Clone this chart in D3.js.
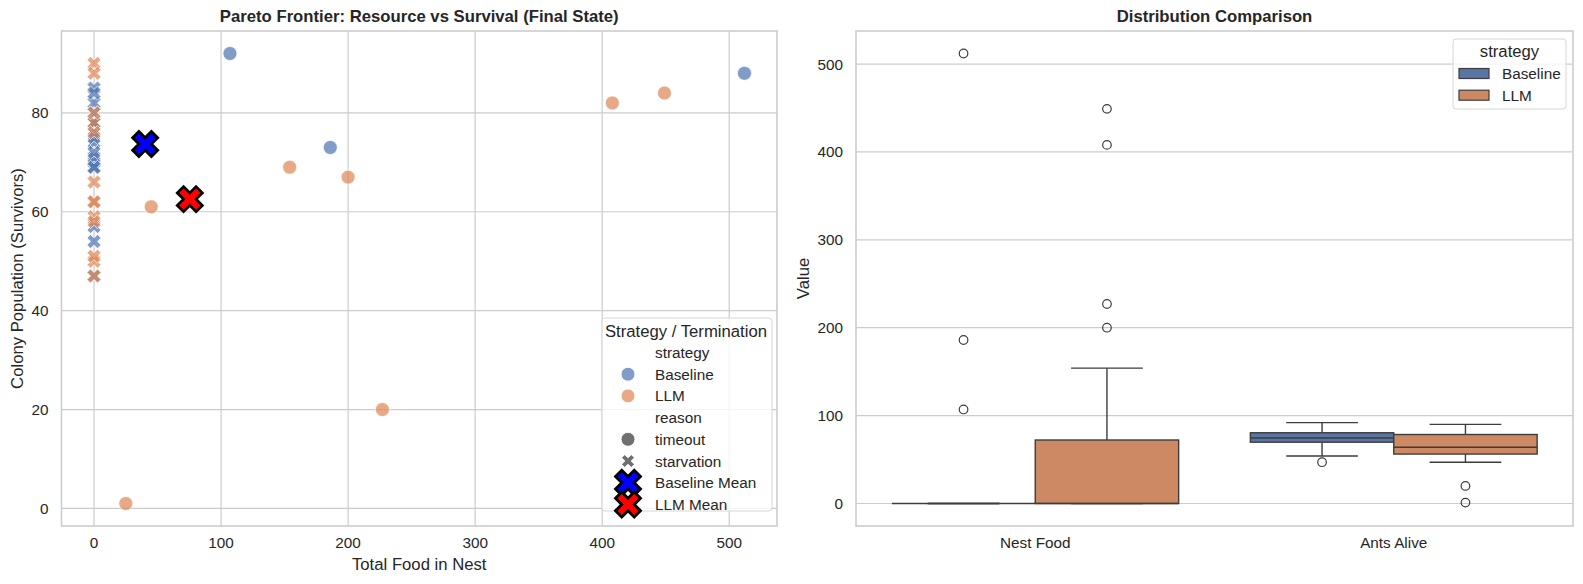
<!DOCTYPE html>
<html>
<head>
<meta charset="utf-8">
<script src="https://cdn.jsdelivr.net/npm/d3@7"></script>
<style>
  body { margin: 0; background: #fff; }
  svg { display: block; font-family: "Liberation Sans", Arial, sans-serif; }
</style>
</head>
<body>
<script>
// ---- data (one entry per run) ----
const strategies = ["Baseline", "LLM"];
const reasons = ["timeout", "starvation"];
const metrics = ["Nest Food", "Ants Alive"];

const baselineFood = [0, 0, 107, 0, 0, 0, 0, 186, 0, 0, 0, 0, 0, 512, 0, 0, 0, 0, 0, 0];
const baselineAnts = [70, 82, 92, 57, 76, 69, 78, 73, 85, 54, 71, 80, 47, 88, 74, 84, 72, 69, 75, 78];
const baselineReason = ["starvation", "starvation", "timeout", "starvation", "starvation", "starvation", "starvation",
  "timeout", "starvation", "starvation", "starvation", "starvation", "starvation", "timeout", "starvation",
  "starvation", "starvation", "starvation", "starvation", "starvation"];

const llmFood = [0, 25, 0, 0, 45, 0, 0, 154, 0, 0, 200, 0, 0, 227, 0, 408, 0, 0, 449, 0];
const llmAnts = [90, 1, 62, 50, 61, 78, 59, 69, 88, 51, 67, 76, 58, 20, 66, 82, 47, 62, 84, 80];
const llmReason = ["starvation", "timeout", "starvation", "starvation", "timeout", "starvation", "starvation",
  "timeout", "starvation", "starvation", "timeout", "starvation", "starvation", "timeout", "starvation",
  "timeout", "starvation", "starvation", "timeout", "starvation"];

const xTicksL = [0, 100, 200, 300, 400, 500];
const yTicksL = [0, 20, 40, 60, 80];
const yTicksR = [0, 100, 200, 300, 400, 500];

const palette = { Baseline: "#4C72B0", LLM: "#DD8452" };
const boxPalette = { Baseline: "#5875a4", LLM: "#cc8963" };
const meanColor = { Baseline: "#0000ff", LLM: "#ff0000" };

const W = 1583, H = 584;
const textColor = "#262626";
const gridColor = "#cccccc";
const lineGray = "#3d3d3d";

const svg = d3.select("body").append("svg").attr("width", W).attr("height", H);

const runs = [];
strategies.forEach(s => {
  const food = s === "Baseline" ? baselineFood : llmFood;
  const ants = s === "Baseline" ? baselineAnts : llmAnts;
  const reason = s === "Baseline" ? baselineReason : llmReason;
  food.forEach((f, i) => runs.push({ strategy: s, food: f, ants: ants[i], reason: reason[i] }));
});

// matplotlib filled "X" marker
function xMarker(size) {
  const v = [[-1,-2],[0,-1],[1,-2],[2,-1],[1,0],[2,1],[1,2],[0,1],[-1,2],[-2,1],[-1,0],[-2,-1]];
  return "M" + v.map(p => [p[0] * size / 4, p[1] * size / 4].join(",")).join("L") + "Z";
}

function pad(ext) {
  const d = (ext[1] - ext[0]) * 0.05;
  return [ext[0] - d, ext[1] + d];
}

// ================= left: scatter =================
const L = { left: 61.5, right: 777, top: 31, bottom: 526 };
const xL = d3.scaleLinear().domain(pad(d3.extent(runs, d => d.food))).range([L.left, L.right]);
const yL = d3.scaleLinear().domain(pad(d3.extent(runs, d => d.ants))).range([L.bottom, L.top]);

const gL = svg.append("g");

gL.append("g").selectAll("line").data(xTicksL).join("line")
  .attr("x1", d => xL(d)).attr("x2", d => xL(d))
  .attr("y1", L.top).attr("y2", L.bottom)
  .attr("stroke", gridColor).attr("stroke-width", 1.2);
gL.append("g").selectAll("line").data(yTicksL).join("line")
  .attr("y1", d => yL(d)).attr("y2", d => yL(d))
  .attr("x1", L.left).attr("x2", L.right)
  .attr("stroke", gridColor).attr("stroke-width", 1.2);

gL.append("rect")
  .attr("x", L.left).attr("y", L.top)
  .attr("width", L.right - L.left).attr("height", L.bottom - L.top)
  .attr("fill", "none").attr("stroke", gridColor).attr("stroke-width", 1.6);

gL.selectAll(".xt").data(xTicksL).join("text")
  .attr("x", d => xL(d)).attr("y", L.bottom + 16)
  .attr("text-anchor", "middle").attr("dominant-baseline", "central")
  .attr("font-size", 15.3).attr("fill", textColor).text(d => d);
gL.selectAll(".yt").data(yTicksL).join("text")
  .attr("x", L.left - 13).attr("y", d => yL(d))
  .attr("text-anchor", "end").attr("dominant-baseline", "central")
  .attr("font-size", 15.3).attr("fill", textColor).text(d => d);

gL.append("text").attr("x", (L.left + L.right) / 2).attr("y", 564)
  .attr("text-anchor", "middle").attr("dominant-baseline", "central")
  .attr("font-size", 16.7).attr("fill", textColor).text("Total Food in Nest");
gL.append("text")
  .attr("transform", `translate(17,${(L.top + L.bottom) / 2}) rotate(-90)`)
  .attr("text-anchor", "middle").attr("dominant-baseline", "central")
  .attr("font-size", 16.7).attr("fill", textColor).text("Colony Population (Survivors)");
gL.append("text").attr("x", (L.left + L.right) / 2).attr("y", 16)
  .attr("text-anchor", "middle").attr("dominant-baseline", "central")
  .attr("font-size", 16.7).attr("font-weight", "bold").attr("fill", textColor)
  .text("Pareto Frontier: Resource vs Survival (Final State)");

const pts = gL.append("g");
runs.forEach(d => {
  const x = xL(d.food), y = yL(d.ants);
  if (d.reason === "timeout") {
    pts.append("circle").attr("cx", x).attr("cy", y).attr("r", 7)
      .attr("fill", palette[d.strategy]).attr("fill-opacity", 0.7)
      .attr("stroke", "#fff").attr("stroke-opacity", 0.7).attr("stroke-width", 1);
  } else {
    pts.append("path").attr("d", xMarker(14)).attr("transform", `translate(${x},${y})`)
      .attr("fill", palette[d.strategy]).attr("fill-opacity", 0.7)
      .attr("stroke", "#fff").attr("stroke-opacity", 0.7).attr("stroke-width", 1);
  }
});

// means
strategies.forEach(s => {
  const sub = runs.filter(d => d.strategy === s);
  const mx = d3.mean(sub, d => d.food), my = d3.mean(sub, d => d.ants);
  gL.append("path").attr("d", xMarker(25)).attr("transform", `translate(${xL(mx)},${yL(my)})`)
    .attr("fill", meanColor[s]).attr("stroke", "#000").attr("stroke-width", 2.8)
    .attr("stroke-linejoin", "miter");
});

// legend (left)
const lg = gL.append("g");
lg.append("rect").attr("x", 602).attr("y", 318).attr("width", 170).attr("height", 193)
  .attr("rx", 3).attr("fill", "#fff").attr("fill-opacity", 0.8)
  .attr("stroke", "#d6d6d6").attr("stroke-width", 1);
lg.append("text").attr("x", 686).attr("y", 331).attr("text-anchor", "middle")
  .attr("dominant-baseline", "central").attr("font-size", 16.7).attr("fill", textColor)
  .text("Strategy / Termination");
const legendRows = [
  { label: "strategy" },
  { label: "Baseline", kind: "circle", color: palette.Baseline, op: 0.7 },
  { label: "LLM", kind: "circle", color: palette.LLM, op: 0.7 },
  { label: "reason" },
  { label: "timeout", kind: "circle", color: "#333333", op: 0.7 },
  { label: "starvation", kind: "x", color: "#333333", op: 0.7 },
  { label: "Baseline Mean", kind: "mean", color: meanColor.Baseline },
  { label: "LLM Mean", kind: "mean", color: meanColor.LLM }
];
legendRows.forEach((r, i) => {
  const y = 352.5 + i * 21.7;
  if (r.kind === "circle") {
    lg.append("circle").attr("cx", 628).attr("cy", y).attr("r", 7)
      .attr("fill", r.color).attr("fill-opacity", r.op)
      .attr("stroke", "#fff").attr("stroke-width", 1);
  } else if (r.kind === "x") {
    lg.append("path").attr("d", xMarker(13)).attr("transform", `translate(628,${y})`)
      .attr("fill", r.color).attr("fill-opacity", r.op)
      .attr("stroke", "#fff").attr("stroke-width", 1);
  } else if (r.kind === "mean") {
    lg.append("path").attr("d", xMarker(25)).attr("transform", `translate(628,${y})`)
      .attr("fill", r.color).attr("stroke", "#000").attr("stroke-width", 2.8);
  }
  lg.append("text").attr("x", 655).attr("y", y).attr("dominant-baseline", "central")
    .attr("font-size", 15.3).attr("fill", textColor).text(r.label);
});

// ================= right: boxplot =================
const R = { left: 856, right: 1573, top: 31, bottom: 526 };
const allVals = runs.flatMap(d => [d.food, d.ants]);
const yR = d3.scaleLinear().domain(pad(d3.extent(allVals))).range([R.bottom, R.top]);
const xR = d3.scaleBand().domain(metrics).range([R.left, R.right]).paddingInner(0.2).paddingOuter(0.1);
const xHue = d3.scaleBand().domain(strategies).range([0, xR.bandwidth()]);

const gR = svg.append("g");
gR.append("g").selectAll("line").data(yTicksR).join("line")
  .attr("y1", d => yR(d)).attr("y2", d => yR(d))
  .attr("x1", R.left).attr("x2", R.right)
  .attr("stroke", gridColor).attr("stroke-width", 1.2);
gR.append("rect")
  .attr("x", R.left).attr("y", R.top)
  .attr("width", R.right - R.left).attr("height", R.bottom - R.top)
  .attr("fill", "none").attr("stroke", gridColor).attr("stroke-width", 1.6);

gR.selectAll(".yt").data(yTicksR).join("text")
  .attr("x", R.left - 13).attr("y", d => yR(d))
  .attr("text-anchor", "end").attr("dominant-baseline", "central")
  .attr("font-size", 15.3).attr("fill", textColor).text(d => d);
gR.selectAll(".xt").data(metrics).join("text")
  .attr("x", d => xR(d) + xR.bandwidth() / 2).attr("y", R.bottom + 16)
  .attr("text-anchor", "middle").attr("dominant-baseline", "central")
  .attr("font-size", 15.3).attr("fill", textColor).text(d => d);
gR.append("text")
  .attr("transform", `translate(803,${(R.top + R.bottom) / 2}) rotate(-90)`)
  .attr("text-anchor", "middle").attr("dominant-baseline", "central")
  .attr("font-size", 16.7).attr("fill", textColor).text("Value");
gR.append("text").attr("x", (R.left + R.right) / 2).attr("y", 16)
  .attr("text-anchor", "middle").attr("dominant-baseline", "central")
  .attr("font-size", 16.7).attr("font-weight", "bold").attr("fill", textColor)
  .text("Distribution Comparison");

metrics.forEach(m => {
  strategies.forEach(s => {
    const vals = runs.filter(d => d.strategy === s).map(d => m === "Nest Food" ? d.food : d.ants).sort(d3.ascending);
    const q1 = d3.quantile(vals, 0.25), med = d3.quantile(vals, 0.5), q3 = d3.quantile(vals, 0.75);
    const iqr = q3 - q1;
    const lo = d3.min(vals.filter(v => v >= q1 - 1.5 * iqr));
    const hi = d3.max(vals.filter(v => v <= q3 + 1.5 * iqr));
    const fliers = vals.filter(v => v < lo || v > hi);
    const x0 = xR(m) + xHue(s), bw = xHue.bandwidth(), cx = x0 + bw / 2;
    const g = gR.append("g").attr("stroke", lineGray).attr("stroke-width", 1.4);
    g.append("line").attr("x1", cx).attr("x2", cx).attr("y1", yR(q3)).attr("y2", yR(hi));
    g.append("line").attr("x1", cx).attr("x2", cx).attr("y1", yR(q1)).attr("y2", yR(lo));
    g.append("line").attr("x1", cx - bw / 4).attr("x2", cx + bw / 4).attr("y1", yR(hi)).attr("y2", yR(hi));
    g.append("line").attr("x1", cx - bw / 4).attr("x2", cx + bw / 4).attr("y1", yR(lo)).attr("y2", yR(lo));
    g.append("rect").attr("x", x0).attr("y", yR(q3)).attr("width", bw)
      .attr("height", Math.max(0, yR(q1) - yR(q3))).attr("fill", boxPalette[s]);
    g.append("line").attr("x1", x0).attr("x2", x0 + bw).attr("y1", yR(med)).attr("y2", yR(med));
    g.selectAll("circle").data(fliers).join("circle")
      .attr("cx", cx).attr("cy", v => yR(v)).attr("r", 4.3)
      .attr("fill", "none").attr("stroke-width", 1.2);
  });
});

// legend (right)
const lr = gR.append("g");
lr.append("rect").attr("x", 1453).attr("y", 39).attr("width", 113).attr("height", 70)
  .attr("rx", 3).attr("fill", "#fff").attr("fill-opacity", 0.8)
  .attr("stroke", "#d6d6d6").attr("stroke-width", 1);
lr.append("text").attr("x", 1509.5).attr("y", 51.5).attr("text-anchor", "middle")
  .attr("dominant-baseline", "central").attr("font-size", 16.7).attr("fill", textColor).text("strategy");
strategies.forEach((s, i) => {
  const y = 73.5 + i * 21.7;
  lr.append("rect").attr("x", 1459).attr("y", y - 5).attr("width", 30).attr("height", 10)
    .attr("fill", boxPalette[s]).attr("stroke", lineGray).attr("stroke-width", 1.2);
  lr.append("text").attr("x", 1502).attr("y", y).attr("dominant-baseline", "central")
    .attr("font-size", 15.3).attr("fill", textColor).text(s);
});
</script>
</body>
</html>
